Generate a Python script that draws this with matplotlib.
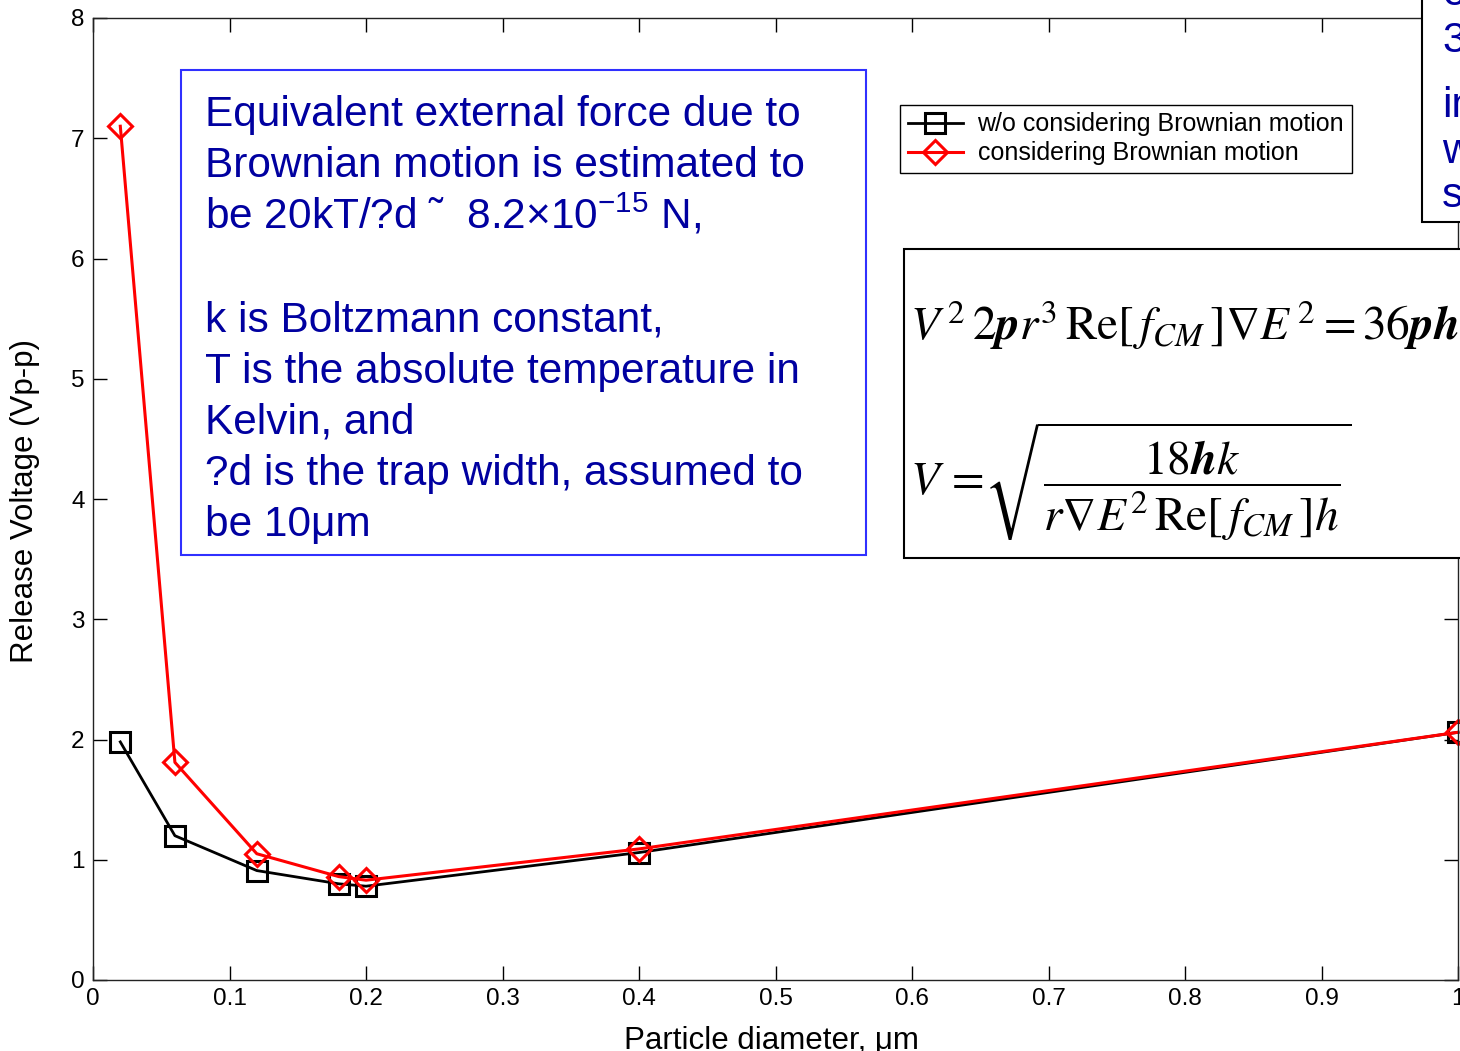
import matplotlib
matplotlib.use("Agg")
import matplotlib.pyplot as plt
from matplotlib.patches import Rectangle

plt.rcParams['font.family'] = ['Liberation Sans', 'DejaVu Sans']
plt.rcParams['mathtext.fontset'] = 'custom'
plt.rcParams['mathtext.rm'] = 'Liberation Sans'
plt.rcParams['mathtext.it'] = 'Liberation Sans:italic'
plt.rcParams['mathtext.bf'] = 'Liberation Sans:bold'

# particle diameter (um) and release voltage (Vp-p)
diameter = [0.02, 0.06, 0.12, 0.18, 0.20, 0.40, 1.00]
v_no_brownian = [1.98, 1.20, 0.91, 0.80, 0.78, 1.06, 2.06]
v_brownian = [7.10, 1.81, 1.05, 0.86, 0.83, 1.09, 2.06]

xticks = [0, 0.1, 0.2, 0.3, 0.4, 0.5, 0.6, 0.7, 0.8, 0.9, 1]
xtick_labels = ['0', '0.1', '0.2', '0.3', '0.4', '0.5', '0.6', '0.7', '0.8', '0.9', '1']
yticks = [0, 1, 2, 3, 4, 5, 6, 7, 8]

note_lines = [
    'Equivalent external force due to',
    'Brownian motion is estimated to',
    'be 20kT/?d \u02dc  8.2\u00d710$^{-15}$ N,',
    '',
    'k is Boltzmann constant,',
    'T is the absolute temperature in',
    'Kelvin, and',
    '?d is the trap width, assumed to',
    'be 10\u03bcm',
]
side_lines = ['o', '3', 'in', 'w', 's']
side_baselines = [5, 52, 117, 163, 207]

W, H = 1460, 1051
fig = plt.figure(figsize=(W / 100, H / 100), dpi=100)


def fx(px):
    return px / W


def fy(py):
    return 1 - py / H


ax = fig.add_axes([fx(93), fy(980), fx(1458) - fx(93), fy(18) - fy(980)])

ax.plot(diameter, v_no_brownian, color='black', lw=2, marker='s', ms=14,
        mfc='none', mec='black', mew=2.2, clip_on=False,
        label='w/o considering Brownian motion')
ax.plot(diameter, v_brownian, color='red', lw=2.2, marker='D', ms=12,
        mfc='none', mec='red', mew=2.2, clip_on=False,
        label='considering Brownian motion')

ax.set_xlim(0, 1)
ax.set_ylim(0, 8)
ax.set_xticks(xticks)
ax.set_xticklabels(xtick_labels)
ax.set_yticks(yticks)
ax.tick_params(direction='in', length=10, width=1, top=True, right=True,
               labelsize=17.5, pad=6)
for s in ax.spines.values():
    s.set_linewidth(1)
    s.set_color('#222222')

ax.set_xlabel('Particle diameter, \u03bcm', fontsize=22.5)
ax.xaxis.set_label_coords(0.497, -0.048)
ax.set_ylabel('Release Voltage (Vp-p)', fontsize=22.5)
ax.yaxis.set_label_coords(-0.039, 0.498)

leg = ax.legend(loc='upper left', bbox_to_anchor=(fx(900), fy(105)),
                bbox_transform=fig.transFigure, fontsize=18, fancybox=False,
                framealpha=1, edgecolor='black', borderpad=0.3,
                handlelength=2.2, handletextpad=0.6, labelspacing=0.2,
                borderaxespad=0)
leg.get_frame().set_linewidth(1)

# blue note box
fig.patches.append(Rectangle((fx(181), fy(555)), fx(866) - fx(181), fy(70) - fy(555),
                             transform=fig.transFigure, facecolor='white',
                             edgecolor='#3030ff', lw=1.5, zorder=5))
for i, line in enumerate(note_lines):
    fig.text(fx(205), fy(126 + i * 51.3), line, color='#0000a0', fontsize=30.5,
             va='baseline', ha='left', zorder=6)

# equation box
fig.patches.append(Rectangle((fx(904), fy(558)), fx(1480) - fx(904), fy(249) - fy(558),
                             transform=fig.transFigure, facecolor='white',
                             edgecolor='black', lw=1.5, zorder=5))
fig.text(fx(910), fy(340),
         r'$V^{\,2}\,2\mathbfit{p}r^{3}\,\mathrm{Re}[\,f_{CM}\,]\nabla E^{\,2} = 36\mathbfit{ph}$',
         fontsize=34, math_fontfamily='stix', va='baseline', ha='left', zorder=6)
fig.text(fx(910), fy(482),
         r'$V\,=\!\sqrt{\dfrac{18\mathbfit{h}k}{r\nabla E^{2}\,\mathrm{Re}[\,f_{CM}\,]h}}$',
         fontsize=34, math_fontfamily='stix', va='center', ha='left', zorder=6)

# partly hidden box on the right
fig.patches.append(Rectangle((fx(1422), fy(222)), fx(1480) - fx(1422), fy(-20) - fy(222),
                             transform=fig.transFigure, facecolor='white',
                             edgecolor='black', lw=1.5, zorder=5))
for line, b in zip(side_lines, side_baselines):
    fig.text(fx(1442), fy(b), line, color='#0000a0', fontsize=30.5,
             va='baseline', ha='left', zorder=6)

fig.savefig('out.png', dpi=100)
